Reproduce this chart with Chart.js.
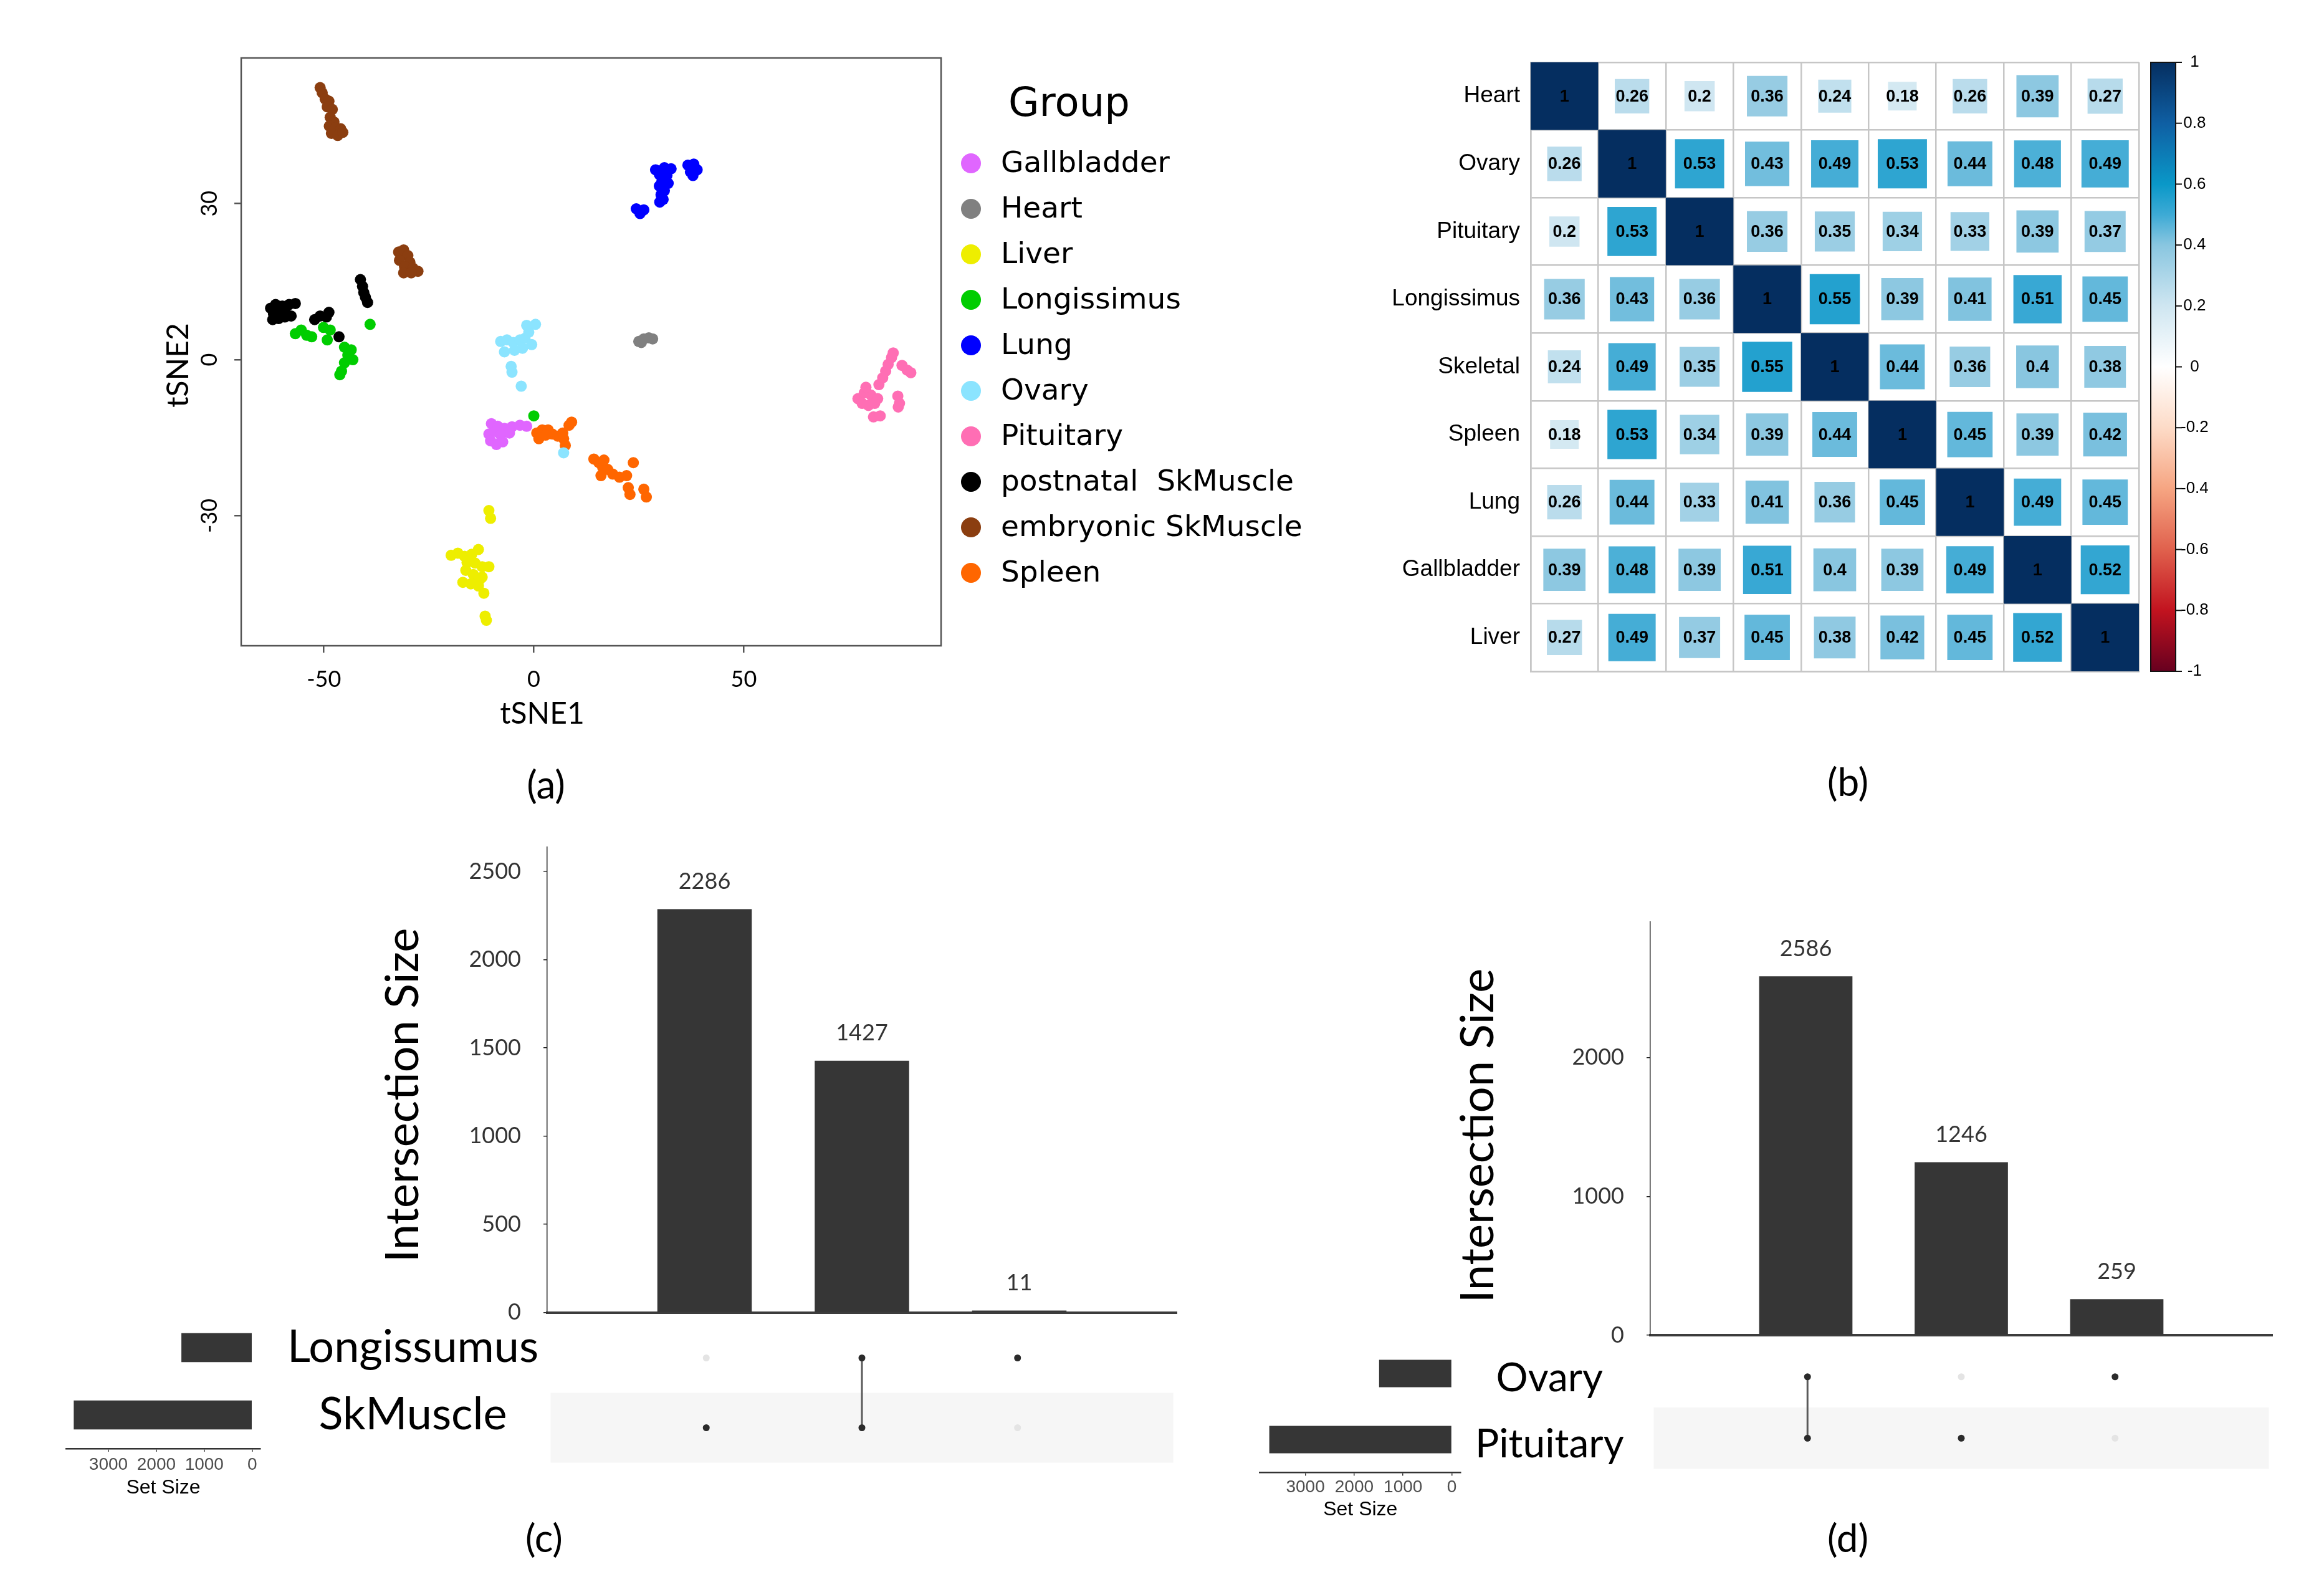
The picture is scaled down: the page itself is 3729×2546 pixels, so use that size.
<!DOCTYPE html>
<html>
<head>
<meta charset="utf-8">
<script src="https://cdn.jsdelivr.net/npm/chart.js@4.4.1/dist/chart.umd.min.js"></script>
<style>
  html, body { margin:0; padding:0; background:#ffffff; }
  #page { position:relative; width:3729px; height:2546px; background:#ffffff; overflow:hidden; }
  #page canvas { position:absolute; }
  .plabel { position:absolute; font-family:Lato, sans-serif; font-size:62px; line-height:1; color:#000; transform:translate(-50%,-50%); white-space:nowrap; }
</style>
</head>
<body>
<div id="page">
  <canvas id="chartA" width="2200" height="1300" style="left:0px;top:0px;"></canvas>
  <canvas id="chartB" width="1529" height="1200" style="left:2200px;top:0px;"></canvas>
  <canvas id="chartCbars" width="1450" height="866" style="left:500px;top:1300px;"></canvas>
  <canvas id="chartCdots" width="1010" height="235" style="left:878px;top:2117px;"></canvas>
  <canvas id="chartCsets" width="850" height="340" style="left:50px;top:2080px;"></canvas>
  <canvas id="chartDbars" width="1550" height="782" style="left:2150px;top:1420px;"></canvas>
  <canvas id="chartDdots" width="998" height="208" style="left:2648px;top:2154px;"></canvas>
  <canvas id="chartDsets" width="850" height="340" style="left:1950px;top:2120px;"></canvas>
  <div class="plabel" style="left:876px;top:1257px;">(a)</div>
  <div class="plabel" style="left:2965px;top:1253px;">(b)</div>
  <div class="plabel" style="left:873px;top:2466px;">(c)</div>
  <div class="plabel" style="left:2965px;top:2466px;">(d)</div>
</div>
<script>
// ===================== DATA =====================
// (a) tSNE
const tsneXTicks = [-50, 0, 50];
const tsneYTicks = [-30, 0, 30];
const groupNames = ['Gallbladder','Heart','Liver','Longissimus','Lung','Ovary','Pituitary','postnatal  SkMuscle','embryonic SkMuscle','Spleen'];
const gallbladderPts = [[-10.1,-12.3],[-8.6,-12.8],[-7.0,-13.2],[-5.2,-12.9],[-3.3,-12.6],[-1.7,-12.8],[-10.7,-14.3],[-9.1,-13.8],[-7.9,-14.5],[-10.3,-15.6],[-8.9,-16.3],[-7.4,-15.8],[-5.8,-14.1]];
const heartPts = [[25.0,3.5],[26.2,4.0],[27.4,4.2],[28.3,4.0],[25.6,3.3]];
const liverPts = [[-10.7,-29.0],[-10.3,-30.5],[-19.7,-37.6],[-18.1,-37.2],[-16.5,-37.8],[-14.8,-37.4],[-13.2,-36.5],[-15.9,-39.0],[-14.0,-39.1],[-12.3,-39.8],[-10.7,-39.8],[-16.2,-40.5],[-14.4,-41.3],[-12.8,-42.2],[-16.9,-42.8],[-15.0,-43.1],[-13.2,-43.5],[-11.9,-44.9],[-12.3,-41.8],[-11.6,-49.3],[-11.3,-50.1]];
const longissimusPts = [[-56.8,5.0],[-55.4,5.7],[-54.1,4.7],[-52.9,4.4],[-50.1,6.2],[-48.5,5.7],[-49.2,3.8],[-45.1,2.4],[-43.5,1.9],[-44.3,0.9],[-43.1,0.0],[-45.1,-0.6],[-45.8,-2.2],[-46.2,-2.9],[-39.0,6.8],[0.0,-10.8]];
const lungPts = [[24.4,29.0],[26.2,28.8],[25.3,28.1],[29.0,36.5],[31.1,36.9],[32.7,36.7],[29.9,35.6],[31.7,35.4],[30.5,34.3],[32.0,33.9],[29.9,33.4],[31.1,32.5],[30.3,31.7],[30.8,30.8],[30.0,30.3],[36.7,37.4],[38.1,37.6],[38.9,36.5],[37.3,36.1],[37.9,35.4]];
const ovaryPts = [[-7.9,3.5],[-6.4,3.8],[-4.9,3.3],[-3.3,3.8],[-2.1,4.1],[-1.2,5.3],[-1.7,6.6],[0.4,6.8],[-0.5,2.9],[-2.7,2.2],[-7.0,1.5],[-4.6,1.8],[-5.4,-1.3],[-5.2,-2.4],[-3.0,-5.1],[7.1,-17.9]];
const pituitaryPts = [[77.2,-7.5],[78.7,-6.4],[80.3,-6.8],[81.9,-7.5],[78.2,-8.4],[79.7,-8.8],[81.2,-8.4],[79.1,-5.3],[80.9,-11.0],[82.5,-10.8],[82.2,-4.8],[83.1,-3.5],[83.8,-2.2],[84.4,-0.9],[85.2,0.4],[85.6,1.3],[87.7,-1.1],[88.9,-2.0],[89.8,-2.5],[86.7,-7.0],[87.1,-8.4],[86.8,-9.1]];
const postnatalPts = [[-62.7,9.9],[-61.5,10.6],[-59.9,10.3],[-58.3,10.6],[-56.8,10.8],[-62.0,8.8],[-60.5,9.2],[-59.0,8.9],[-57.8,8.4],[-62.2,7.7],[-60.8,7.9],[-59.3,8.2],[-52.2,7.7],[-50.9,8.4],[-48.8,9.1],[-49.4,8.2],[-46.4,4.4],[-41.3,15.4],[-40.8,14.1],[-40.5,12.9],[-40.1,12.0],[-39.6,11.0]];
const embryonicPts = [[-50.9,52.3],[-50.4,51.3],[-49.7,50.1],[-48.8,49.7],[-49.2,48.6],[-48.0,48.1],[-48.5,46.6],[-47.6,45.7],[-48.7,44.9],[-47.2,44.6],[-46.0,44.4],[-48.2,43.5],[-46.7,43.1],[-45.5,43.7],[-32.2,20.7],[-31.0,21.1],[-30.0,20.0],[-32.0,19.1],[-29.5,18.7],[-30.8,17.9],[-28.8,17.6],[-27.6,17.0],[-31.0,16.7],[-29.2,16.7]];
const spleenPts = [[0.7,-14.1],[2.0,-13.5],[3.4,-13.5],[4.4,-14.3],[5.7,-14.7],[7.1,-15.2],[7.5,-16.5],[6.9,-14.1],[8.4,-12.6],[9.0,-12.0],[1.2,-15.2],[2.8,-14.5],[14.3,-19.1],[15.5,-19.8],[16.4,-20.7],[17.6,-21.1],[16.0,-22.3],[18.8,-22.0],[20.4,-22.6],[22.1,-22.3],[23.7,-19.8],[22.5,-24.6],[22.9,-25.9],[26.2,-24.9],[26.8,-26.4],[16.7,-19.3]];
const groupPoints = [gallbladderPts, heartPts, liverPts, longissimusPts, lungPts, ovaryPts, pituitaryPts, postnatalPts, embryonicPts, spleenPts];
const groupColors = ['#E066FF','#808080','#EEEE00','#00CD00','#0000FF','#8BE4FF','#FF6EB4','#000000','#8B3E10','#FF6600'];

// (b) correlation matrix
const tissues = ['Heart','Ovary','Pituitary','Longissimus','Skeletal','Spleen','Lung','Gallbladder','Liver'];
const corrHeart       = [1, 0.26, 0.2, 0.36, 0.24, 0.18, 0.26, 0.39, 0.27];
const corrOvary       = [0.26, 1, 0.53, 0.43, 0.49, 0.53, 0.44, 0.48, 0.49];
const corrPituitary   = [0.2, 0.53, 1, 0.36, 0.35, 0.34, 0.33, 0.39, 0.37];
const corrLongissimus = [0.36, 0.43, 0.36, 1, 0.55, 0.39, 0.41, 0.51, 0.45];
const corrSkeletal    = [0.24, 0.49, 0.35, 0.55, 1, 0.44, 0.36, 0.4, 0.38];
const corrSpleen      = [0.18, 0.53, 0.34, 0.39, 0.44, 1, 0.45, 0.39, 0.42];
const corrLung        = [0.26, 0.44, 0.33, 0.41, 0.36, 0.45, 1, 0.49, 0.45];
const corrGallbladder = [0.39, 0.48, 0.39, 0.51, 0.4, 0.39, 0.49, 1, 0.52];
const corrLiver       = [0.27, 0.49, 0.37, 0.45, 0.38, 0.42, 0.45, 0.52, 1];
const corrRows = [corrHeart, corrOvary, corrPituitary, corrLongissimus, corrSkeletal, corrSpleen, corrLung, corrGallbladder, corrLiver];
const colorbarTicks = [-1, -0.8, -0.6, -0.4, -0.2, 0, 0.2, 0.4, 0.6, 0.8, 1];

// (c) UpSet Longissumus / SkMuscle
const cSets = ['Longissumus', 'SkMuscle'];
const cSetSizes = [1478, 3724];
const cIntersections = [2286, 1427, 11];
const cLongissumusMember = [0, 1, 1];
const cSkMuscleMember = [1, 1, 0];
const cYTicks = [0, 500, 1000, 1500, 2000, 2500];

// (d) UpSet Ovary / Pituitary
const dSets = ['Ovary', 'Pituitary'];
const dSetSizes = [1490, 3740];
const dIntersections = [2586, 1246, 259];
const dOvaryMember = [1, 0, 1];
const dPituitaryMember = [1, 1, 0];
const dYTicks = [0, 1000, 2000];

const setSizeTicks = [0, 1000, 2000, 3000];

// ===================== STYLE HELPERS =====================
const corrStopVals = [-1, -0.8, -0.6, -0.4, -0.2, 0, 0.2, 0.4, 0.5, 0.6, 0.8, 1];
const corrStopCols = ['#67001F','#C2131F','#E0614D','#F6A582','#FDDBC7','#FFFFFF','#CFE6F1','#89C6E0','#3DAAD5','#0A98C8','#0F5FA3','#052E60'];
function hexToRgb(h){ return [parseInt(h.substr(1,2),16), parseInt(h.substr(3,2),16), parseInt(h.substr(5,2),16)]; }
function corrColor(v){
  for (let k = 0; k < corrStopVals.length - 1; k++){
    if (v >= corrStopVals[k] && v <= corrStopVals[k+1]){
      const t = (v - corrStopVals[k]) / (corrStopVals[k+1] - corrStopVals[k]);
      const a = hexToRgb(corrStopCols[k]), b = hexToRgb(corrStopCols[k+1]);
      const c = a.map((x,i)=>Math.round(x + (b[i]-x)*t));
      return 'rgb(' + c.join(',') + ')';
    }
  }
  return corrStopCols[corrStopCols.length-1];
}
const fixTicks = (arr) => (scale) => { scale.ticks = arr.map(v => ({ value: v })); };
const plain = (v) => String(v);
const BAR_DARK = '#363636';

Chart.defaults.font.family = 'Lato';
Chart.defaults.color = '#000';
Chart.defaults.animation = false;
Chart.defaults.events = [];
Chart.defaults.plugins.legend.display = false;
Chart.defaults.plugins.tooltip.enabled = false;

// ===================== (a) tSNE =====================
const tsneFramePlugin = {
  id: 'tsneFrame',
  afterDraw(chart){
    const { ctx, chartArea: ca } = chart;
    const sy = chart.scales.y;
    ctx.save();
    ctx.strokeStyle = '#555'; ctx.lineWidth = 2.5;
    ctx.strokeRect(ca.left, ca.top, ca.right - ca.left, ca.bottom - ca.top);
    // rotated y tick labels
    ctx.fillStyle = '#000'; ctx.font = '36px Lato'; ctx.textAlign = 'center'; ctx.textBaseline = 'middle';
    sy.ticks.forEach(t => {
      const y = sy.getPixelForValue(t.value);
      ctx.save(); ctx.translate(sy.right - 51, y); ctx.rotate(-Math.PI/2); ctx.fillText(String(t.value), 0, 0); ctx.restore();
    });
    // axis titles
    ctx.font = '48px Lato';
    ctx.fillText('tSNE1', 870, 1146);
    ctx.save(); ctx.translate(287, 586); ctx.rotate(-Math.PI/2); ctx.fillText('tSNE2', 0, 0); ctx.restore();
    // legend
    ctx.textAlign = 'left'; ctx.textBaseline = 'alphabetic';
    ctx.font = '64px "DejaVu Sans"';
    ctx.fillText('Group', 1618, 186);
    ctx.font = '47px "DejaVu Sans"'; ctx.textBaseline = 'middle';
    chart.data.datasets.forEach((ds, i) => {
      const y = 262 + i * 73;
      ctx.fillStyle = ds.backgroundColor;
      ctx.beginPath(); ctx.arc(1558, y, 16, 0, Math.PI * 2); ctx.fill();
      ctx.fillStyle = '#000';
      ctx.fillText(ds.label, 1606, y + 2);
    });
    ctx.restore();
  }
};

new Chart(document.getElementById('chartA'), {
  type: 'scatter',
  data: {
    datasets: groupNames.map((name, i) => ({
      label: name,
      data: groupPoints[i].map(([x, y]) => ({ x, y })),
      backgroundColor: groupColors[i],
      borderColor: groupColors[i],
      borderWidth: 0,
      pointRadius: 9
    }))
  },
  options: {
    responsive: false,
    layout: { padding: { left: 0, top: 93, right: 690, bottom: 0 } },
    scales: {
      x: {
        type: 'linear', min: -69.7, max: 97,
        afterBuildTicks: fixTicks(tsneXTicks),
        grid: { drawOnChartArea: false, drawTicks: true, tickLength: 11, color: '#555', lineWidth: 2.5 },
        border: { display: false },
        ticks: { font: { family: 'Lato', size: 36 }, color: '#000', padding: 22, callback: plain, autoSkip: false, maxRotation: 0 },
        afterFit: (s) => { s.height = 264; }
      },
      y: {
        type: 'linear', min: -55, max: 58,
        afterBuildTicks: fixTicks(tsneYTicks),
        grid: { drawOnChartArea: false, drawTicks: true, tickLength: 11, color: '#555', lineWidth: 2.5 },
        border: { display: false },
        ticks: { display: false },
        afterFit: (s) => { s.width = 387; }
      }
    }
  },
  plugins: [tsneFramePlugin]
});

// ===================== (b) correlation matrix =====================
const corrCells = [];
tissues.forEach((rowName, i) => corrRows[i].forEach((v, j) => corrCells.push({ x: tissues[j], y: rowName, v })));

const corrDecorPlugin = {
  id: 'corrDecor',
  afterDatasetsDraw(chart){
    const { ctx } = chart;
    const meta = chart.getDatasetMeta(0);
    const data = chart.data.datasets[0].data;
    ctx.save();
    ctx.font = 'bold 27px "Liberation Sans"'; ctx.fillStyle = '#000';
    ctx.textAlign = 'center'; ctx.textBaseline = 'middle';
    meta.data.forEach((el, i) => ctx.fillText(String(data[i].v), el.x, el.y + 1));
    ctx.restore();
  },
  afterDraw(chart){
    const { ctx } = chart;
    const s = chart.scales.cb;
    const x0 = s.left + 19, w = 40;
    const yTop = s.getPixelForValue(1), yBot = s.getPixelForValue(-1);
    ctx.save();
    const g = ctx.createLinearGradient(0, yBot, 0, yTop);
    corrStopVals.forEach((v, i) => g.addColorStop((v + 1) / 2, corrStopCols[i]));
    ctx.fillStyle = g;
    ctx.fillRect(x0, yTop, w, yBot - yTop);
    ctx.strokeStyle = '#111'; ctx.lineWidth = 2;
    ctx.strokeRect(x0, yTop, w, yBot - yTop);
    s.ticks.forEach(t => {
      const y = s.getPixelForValue(t.value);
      ctx.beginPath(); ctx.moveTo(x0 + w, y); ctx.lineTo(x0 + w + 10, y); ctx.stroke();
    });
    ctx.restore();
  }
};

new Chart(document.getElementById('chartB'), {
  type: 'scatter',
  data: {
    datasets: [{
      data: corrCells,
      pointStyle: 'rect',
      borderWidth: 0,
      backgroundColor: (ctx) => corrColor(ctx.raw ? ctx.raw.v : 0),
      pointRadius: (ctx) => {
        const sx = ctx.chart.scales.x;
        const cell = Math.abs(sx.getPixelForValue(1) - sx.getPixelForValue(0));
        return Math.sqrt(Math.abs(ctx.raw ? ctx.raw.v : 0)) * cell / Math.SQRT2;
      }
    }]
  },
  options: {
    responsive: false,
    layout: { padding: { left: 0, top: 100, right: 0, bottom: 0 } },
    scales: {
      x: {
        type: 'category', labels: tissues, offset: true, position: 'bottom',
        grid: { offset: true, color: '#C6C6C6', lineWidth: 2.5, drawTicks: false },
        border: { display: true, color: '#C6C6C6', width: 2.5 },
        ticks: { display: false },
        afterFit: (s) => { s.height = 123; }
      },
      y: {
        type: 'category', labels: tissues, offset: true, position: 'left',
        grid: { offset: true, color: '#C6C6C6', lineWidth: 2.5, drawTicks: false },
        border: { display: true, color: '#C6C6C6', width: 2.5 },
        ticks: { font: { family: 'Liberation Sans', size: 37 }, color: '#000', padding: 17, autoSkip: false },
        afterFit: (s) => { s.width = 256; }
      },
      cb: {
        type: 'linear', position: 'right', min: -1, max: 1,
        afterBuildTicks: fixTicks(colorbarTicks),
        grid: { display: false, drawTicks: false },
        border: { display: false },
        ticks: { crossAlign: 'center', padding: 67, font: { family: 'Liberation Sans', size: 26 }, color: '#000', callback: plain, autoSkip: false },
        afterFit: (s) => { s.width = 297; }
      }
    }
  },
  plugins: [corrDecorPlugin]
});

// ===================== UpSet helpers =====================
function makeTitlePlugin(text, x, y){
  return {
    id: 'isTitle',
    afterDraw(chart){
      const { ctx } = chart;
      ctx.save();
      ctx.fillStyle = '#000'; ctx.font = '74px Lato'; ctx.textAlign = 'center'; ctx.textBaseline = 'middle';
      ctx.translate(x, y); ctx.rotate(-Math.PI / 2); ctx.fillText(text, 0, 0);
      ctx.restore();
    }
  };
}
const barValuePlugin = {
  id: 'barValues',
  afterDatasetsDraw(chart){
    const { ctx } = chart;
    const meta = chart.getDatasetMeta(0);
    const data = chart.data.datasets[0].data;
    ctx.save();
    ctx.font = '36px Lato'; ctx.fillStyle = '#333'; ctx.textAlign = 'center'; ctx.textBaseline = 'middle';
    meta.data.forEach((el, i) => ctx.fillText(String(data[i].y), el.x, el.y - 44));
    ctx.restore();
  }
};
function intersectionChart(canvasId, sizes, yTicks, yMax, pad, yAxisW, xAxisH, titlePos){
  return new Chart(document.getElementById(canvasId), {
    type: 'bar',
    data: {
      datasets: [{
        data: sizes.map((v, i) => ({ x: i + 1, y: v })),
        backgroundColor: BAR_DARK,
        barPercentage: 0.6, categoryPercentage: 1
      }]
    },
    options: {
      responsive: false,
      layout: { padding: pad },
      scales: {
        x: {
          type: 'linear', min: 0, max: 4, offset: false,
          grid: { display: false, drawTicks: false },
          ticks: { display: false, stepSize: 1 },
          border: { display: true, color: '#3c3c3c', width: 4 },
          afterFit: (s) => { s.height = xAxisH; }
        },
        y: {
          type: 'linear', min: 0, max: yMax,
          afterBuildTicks: fixTicks(yTicks),
          grid: { drawOnChartArea: false, drawTicks: true, tickLength: 6, color: '#222', lineWidth: 1.5 },
          border: { display: true, color: '#222', width: 1.5 },
          ticks: { font: { family: 'Lato', size: 36 }, color: '#333', padding: 36, callback: plain, autoSkip: false },
          afterFit: (s) => { s.width = yAxisW; }
        }
      }
    },
    plugins: [barValuePlugin, makeTitlePlugin('Intersection Size', titlePos[0], titlePos[1])]
  });
}
const bandPlugin = {
  id: 'bands',
  beforeDatasetsDraw(chart){
    const { ctx, chartArea: ca } = chart;
    const s = chart.scales.y;
    const n = s.getLabels().length;
    const step = Math.abs(s.getPixelForValue(1) - s.getPixelForValue(0));
    ctx.save(); ctx.fillStyle = '#F6F6F6';
    for (let i = 1; i < n; i += 2){
      const y = s.getPixelForValue(i);
      ctx.fillRect(ca.left, y - step / 2, ca.right - ca.left, step);
    }
    ctx.restore();
  }
};
function dotChart(canvasId, sets, members){
  const present = [], absent = [], links = [];
  const nCols = members[0].length;
  for (let j = 0; j < nCols; j++){
    const col = [];
    sets.forEach((name, i) => {
      const p = { x: j + 1, y: name };
      if (members[i][j]) { present.push(p); col.push(p); } else { absent.push(p); }
    });
    if (col.length > 1) links.push(col);
  }
  const datasets = [{ data: present, backgroundColor: '#2B2B2B', borderWidth: 0, pointRadius: 5.5 }]
    .concat(links.map(col => ({ data: col, showLine: true, pointRadius: 0, borderColor: '#5a5a5a', borderWidth: 3 })))
    .concat([{ data: absent, backgroundColor: '#E4E4E4', borderWidth: 0, pointRadius: 5.5 }]);
  return new Chart(document.getElementById(canvasId), {
    type: 'scatter',
    data: { datasets },
    options: {
      responsive: false,
      layout: { padding: 0 },
      scales: {
        x: { type: 'linear', min: 0, max: 4, display: false },
        y: { type: 'category', labels: sets, offset: true, display: false }
      }
    },
    plugins: [bandPlugin]
  });
}
function setSizeChart(canvasId, sets, sizes, xMin, xMax, pad, xAxisH, yAxisW, tickPad, titlePadB, labelFont, labelOffset, barPct, labelShiftY){
  return new Chart(document.getElementById(canvasId), {
    type: 'bar',
    data: { labels: sets, datasets: [{ data: sizes, backgroundColor: BAR_DARK, barPercentage: barPct, categoryPercentage: 1 }] },
    options: {
      responsive: false,
      indexAxis: 'y',
      layout: { padding: pad },
      scales: {
        x: {
          type: 'linear', reverse: true, min: xMin, max: xMax,
          afterBuildTicks: fixTicks(setSizeTicks),
          grid: { drawOnChartArea: false, drawTicks: true, tickLength: 5, color: '#333', lineWidth: 1.5 },
          border: { display: true, color: '#333', width: 2.5 },
          ticks: { font: { family: 'Liberation Sans', size: 28 }, color: '#4D4D4D', padding: tickPad, callback: plain, autoSkip: false, maxRotation: 0 },
          title: { display: true, text: 'Set Size', font: { family: 'Liberation Sans', size: 32 }, color: '#000', padding: { top: 0, bottom: titlePadB } },
          afterFit: (s) => { s.height = xAxisH; }
        },
        y: {
          type: 'category', position: 'right',
          grid: { display: false, drawTicks: true, tickLength: labelOffset },
          border: { display: false },
          ticks: { crossAlign: 'center', padding: 0, labelOffset: labelShiftY, font: { family: 'Lato', size: labelFont, lineHeight: 0.6 }, color: '#000', autoSkip: false },
          afterFit: (s) => { s.width = yAxisW; }
        }
      }
    }
  });
}

// ===================== (c) =====================
intersectionChart('chartCbars', cIntersections, cYTicks, 2638,
  { left: 0, top: 59, right: 62, bottom: 0 }, 378, 60.5, [147, 457]);
dotChart('chartCdots', cSets, [cLongissumusMember, cSkMuscleMember]);
setSizeChart('chartCsets', cSets, cSetSizes, -173, 3884,
  { left: 56, top: 28, right: 0, bottom: 0 }, 96, 482, 4, 14, 72, 43, 0.43, 0);

// ===================== (d) =====================
intersectionChart('chartDbars', dIntersections, dYTicks, 2978,
  { left: 0, top: 59, right: 54, bottom: 0 }, 498, 60, [222, 402]);
dotChart('chartDdots', dSets, [dOvaryMember, dPituitaryMember]);
setSizeChart('chartDsets', dSets, dSetSizes, -185, 3932,
  { left: 71.6, top: 30.5, right: 0, bottom: 0 }, 97.5, 456, 2.4, 19, 64, 23, 0.415, 8);
</script>
</body>
</html>
